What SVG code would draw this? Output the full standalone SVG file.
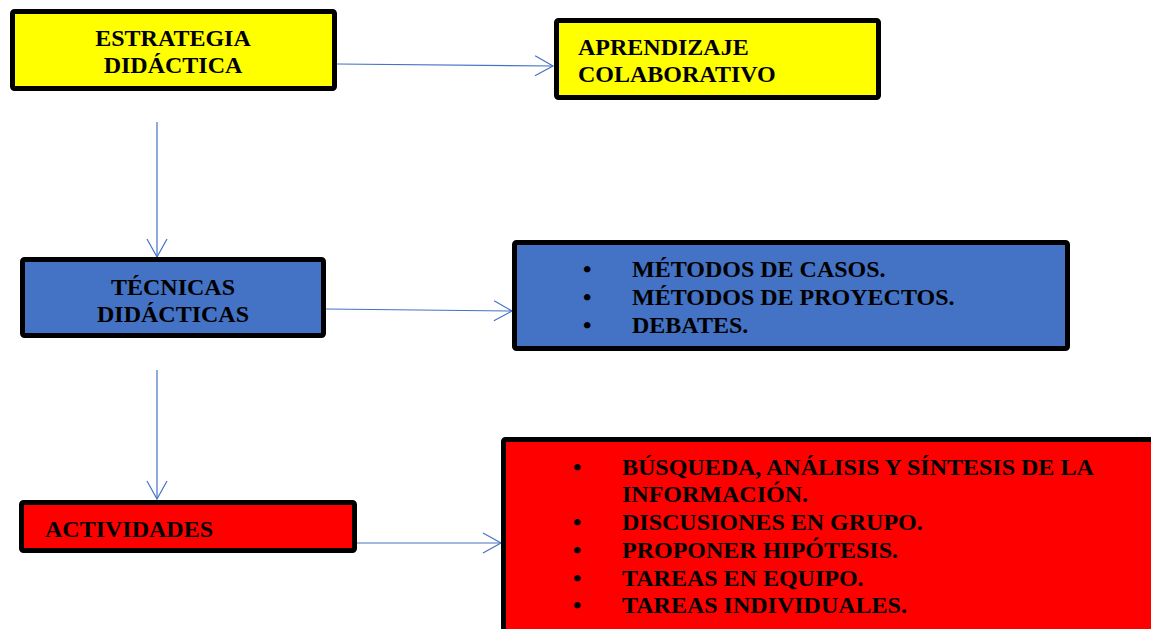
<svg xmlns="http://www.w3.org/2000/svg" width="1151" height="629" viewBox="0 0 1151 629">
<style>
.box{stroke:#000;stroke-width:5;}
.yel{fill:#ffff00;}
.blu{fill:#4472c4;}
.red{fill:#ff0000;}
text{font-family:"Liberation Serif","Times New Roman",serif;font-weight:bold;font-size:24px;fill:#000;}
.c{text-anchor:middle;}
.conn{stroke:#4472c4;stroke-width:1.2;fill:none;marker-end:url(#arr);}
</style>
<defs>
<marker id="arr" markerWidth="22" markerHeight="22" refX="20" refY="11" orient="auto" markerUnits="userSpaceOnUse">
<path d="M2,1 L20,11 L2,21" fill="none" stroke="#4472c4" stroke-width="1.2"/>
</marker>
</defs>
<g id="connectors">
<path class="conn" d="M337,64 L553,66"/>
<path class="conn" d="M157,122 L157,257"/>
<path class="conn" d="M326,309 L512,311"/>
<path class="conn" d="M157,370 L157,499"/>
<path class="conn" d="M357,543 L501,543"/>
</g>
<g id="estrategia">
<rect class="box yel" x="12.5" y="11.5" width="322" height="77" rx="2"/>
<text class="c" x="173" y="46">ESTRATEGIA</text>
<text class="c" x="173" y="73">DIDÁCTICA</text>
</g>
<g id="aprendizaje">
<rect class="box yel" x="556.5" y="20.5" width="322" height="77" rx="2"/>
<text x="578" y="55">APRENDIZAJE</text>
<text x="578" y="82">COLABORATIVO</text>
</g>
<g id="tecnicas">
<rect class="box blu" x="22.5" y="259.5" width="301" height="76" rx="2"/>
<text class="c" x="173" y="295">TÉCNICAS</text>
<text class="c" x="173" y="322">DIDÁCTICAS</text>
</g>
<g id="metodos">
<rect class="box blu" x="514.5" y="242.5" width="553" height="106" rx="2"/>
<text x="583" y="277">•</text><text x="632" y="277">MÉTODOS DE CASOS.</text>
<text x="583" y="305">•</text><text x="632" y="305">MÉTODOS DE PROYECTOS.</text>
<text x="583" y="333">•</text><text x="632" y="333">DEBATES.</text>
</g>
<g id="actividades">
<rect class="box red" x="21.5" y="502.5" width="333" height="48" rx="2"/>
<text x="45" y="537">ACTIVIDADES</text>
</g>
<g id="lista-actividades">
<rect class="box red" x="503.5" y="439.5" width="660" height="200" rx="2"/>
<text x="573" y="475">•</text><text x="622" y="475">BÚSQUEDA, ANÁLISIS Y SÍNTESIS DE LA</text>
<text x="622" y="502">INFORMACIÓN.</text>
<text x="573" y="530">•</text><text x="622" y="530">DISCUSIONES EN GRUPO.</text>
<text x="573" y="558">•</text><text x="622" y="558">PROPONER HIPÓTESIS.</text>
<text x="573" y="586">•</text><text x="622" y="586">TAREAS EN EQUIPO.</text>
<text x="573" y="613">•</text><text x="622" y="613">TAREAS INDIVIDUALES.</text>
</g>
</svg>
